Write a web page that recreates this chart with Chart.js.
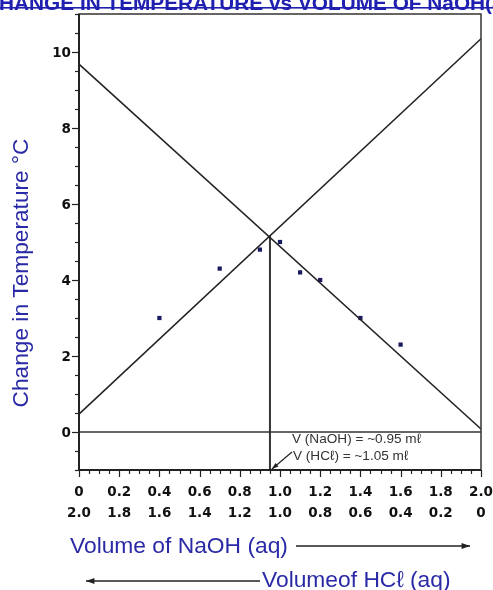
<!DOCTYPE html>
<html>
<head>
<meta charset="utf-8">
<script src="https://cdn.jsdelivr.net/npm/chart.js@4"></script>
<style>
  body { margin: 0; background: #fff; }
  #wrap { width: 493px; height: 590px; }
</style>
</head>
<body>
<div id="wrap"><canvas id="chart" width="493" height="590"></canvas></div>
<script>
// measured points (volume NaOH in ml, temperature change in C)
const volNaOH = [0.4, 0.7, 0.9, 1.0, 1.1, 1.2, 1.4, 1.6];
const tempChange = [3.0, 4.3, 4.8, 5.0, 4.2, 4.0, 3.0, 2.3];

// best fit lines, read at the two ends of the axis
const riseX = [0, 2];
const riseY = [0.47, 10.35];
const fallX = [0, 2];
const fallY = [9.68, 0.08];

// endpoint volume
const endX = [0.95, 0.95];
const endY = [-1, 5.16];
const zeroX = [0, 2];
const zeroY = [0, 0];

// tick labels
const xTickVals = [0, 0.2, 0.4, 0.6, 0.8, 1.0, 1.2, 1.4, 1.6, 1.8, 2.0];
const xTopLabels = ['0', '0.2', '0.4', '0.6', '0.8', '1.0', '1.2', '1.4', '1.6', '1.8', '2.0'];
const xBottomLabels = ['2.0', '1.8', '1.6', '1.4', '1.2', '1.0', '0.8', '0.6', '0.4', '0.2', '0'];
const yTickVals = [0, 2, 4, 6, 8, 10];
const yTickLabels = ['0', '2', '4', '6', '8', '10'];

const titleText = 'CHANGE IN TEMPERATURE vs VOLUME OF NaOH(aq)';
const yTitle = 'Change in Temperature \u00B0C';
const naohTitle = 'Volume of NaOH (aq)';
const hclTitle = 'Volumeof HC\u2113 (aq)';
const note1 = 'V (NaOH) = ~0.95 m\u2113';
const note2 = 'V (HC\u2113) = ~1.05 m\u2113';

const pairs = (xs, ys) => xs.map((x, i) => ({ x: x, y: ys[i] }));

const BLUE = '#2a2aa6';
const INK = '#222';

function arrow(ctx, x1, y1, x2, y2, head) {
    const a = Math.atan2(y2 - y1, x2 - x1);
    ctx.beginPath();
    ctx.moveTo(x1, y1);
    ctx.lineTo(x2, y2);
    ctx.stroke();
    ctx.beginPath();
    ctx.moveTo(x2, y2);
    ctx.lineTo(x2 - head * Math.cos(a - 0.35), y2 - head * Math.sin(a - 0.35));
    ctx.lineTo(x2 - head * Math.cos(a + 0.35), y2 - head * Math.sin(a + 0.35));
    ctx.closePath();
    ctx.fill();
}

const decor = {
    id: 'decor',
    afterDraw(chart) {
        const ctx = chart.ctx;
        const xs = chart.scales.x;
        const ys = chart.scales.y;
        const area = chart.chartArea;
        ctx.save();

        // frame
        ctx.strokeStyle = '#333';
        ctx.lineWidth = 1.5;
        ctx.strokeRect(area.left, area.top, area.right - area.left, area.bottom - area.top);
        ctx.lineWidth = 2;
        ctx.strokeStyle = INK;
        ctx.beginPath();
        ctx.moveTo(area.left, area.top);
        ctx.lineTo(area.left, area.bottom);
        ctx.lineTo(area.right, area.bottom);
        ctx.stroke();

        // y ticks every 0.5
        ctx.lineWidth = 1.2;
        for (let v = -1; v <= 11.001; v += 0.5) {
            const py = Math.round(ys.getPixelForValue(v)) + 0.5;
            const len = Math.abs(v % 2) < 0.01 ? 7 : 4;
            ctx.beginPath();
            ctx.moveTo(area.left - len, py);
            ctx.lineTo(area.left, py);
            ctx.stroke();
        }
        // x ticks every 0.05
        for (let i = 0; i <= 40; i++) {
            const px = Math.round(xs.getPixelForValue(i * 0.05)) + 0.5;
            const len = i % 4 === 0 ? 7 : 4;
            ctx.beginPath();
            ctx.moveTo(px, area.bottom);
            ctx.lineTo(px, area.bottom + len);
            ctx.stroke();
        }

        // tick labels
        ctx.fillStyle = '#111';
        ctx.font = 'bold 13.5px "DejaVu Sans"';
        ctx.textBaseline = 'middle';
        ctx.textAlign = 'right';
        yTickVals.forEach((v, i) => {
            ctx.fillText(yTickLabels[i], area.left - 8, ys.getPixelForValue(v) + 1);
        });
        ctx.textAlign = 'center';
        xTickVals.forEach((v, i) => {
            const px = xs.getPixelForValue(v);
            ctx.fillText(xTopLabels[i], px, area.bottom + 22);
            ctx.fillText(xBottomLabels[i], px, area.bottom + 43);
        });

        // y axis title
        ctx.save();
        ctx.translate(22, 273);
        ctx.rotate(-Math.PI / 2);
        ctx.fillStyle = BLUE;
        ctx.font = '22.7px "Liberation Sans"';
        ctx.fillText(yTitle, 0, 0);
        ctx.restore();

        // x axis titles with arrows
        ctx.fillStyle = BLUE;
        ctx.font = '22.8px "Liberation Sans"';
        ctx.textAlign = 'left';
        ctx.fillText(naohTitle, 70, 547);
        ctx.fillText(hclTitle, 262, 581);
        ctx.strokeStyle = INK;
        ctx.fillStyle = INK;
        ctx.lineWidth = 1.3;
        arrow(ctx, 296, 546, 470, 546, 9);
        arrow(ctx, 260, 581, 86, 581, 9);

        // endpoint notes
        ctx.fillStyle = '#333';
        ctx.font = '13.6px "Liberation Sans"';
        ctx.fillText(note1, 292, 439);
        ctx.fillText(note2, 293, 456);
        ctx.strokeStyle = '#222';
        ctx.fillStyle = '#222';
        ctx.lineWidth = 1.2;
        arrow(ctx, 292, 452, xs.getPixelForValue(endX[0]) + 2, area.bottom - 1, 7);

        // title, running off the top of the picture
        ctx.font = 'bold 20.8px "Liberation Sans"';
        ctx.fillStyle = '#2020b0';
        const lead = ctx.measureText('C').width + 1;
        const w = ctx.measureText(titleText).width;
        ctx.fillText(titleText, -lead, 4);
        ctx.fillRect(-lead, 7, w, 1.6);

        ctx.restore();
    }
};

new Chart(document.getElementById('chart'), {
    type: 'scatter',
    data: {
        datasets: [
            { data: pairs(zeroX, zeroY), showLine: true, borderColor: '#333', borderWidth: 1.3, pointRadius: 0 },
            { data: pairs(riseX, riseY), showLine: true, borderColor: INK, borderWidth: 1.5, pointRadius: 0 },
            { data: pairs(fallX, fallY), showLine: true, borderColor: INK, borderWidth: 1.5, pointRadius: 0 },
            { data: pairs(endX, endY), showLine: true, borderColor: '#333', borderWidth: 2, pointRadius: 0 },
            {
                data: pairs(volNaOH, tempChange),
                pointStyle: 'rect',
                pointRadius: 3,
                backgroundColor: '#1a1a60',
                borderColor: '#1a1a60',
                borderWidth: 0
            }
        ]
    },
    options: {
        responsive: false,
        animation: false,
        layout: { padding: { left: 79, right: 12, top: 14, bottom: 120 } },
        plugins: { legend: { display: false }, tooltip: { enabled: false } },
        scales: {
            x: { type: 'linear', min: 0, max: 2, display: false },
            y: { type: 'linear', min: -1, max: 11, display: false }
        }
    },
    plugins: [decor]
});
</script>
</body>
</html>
